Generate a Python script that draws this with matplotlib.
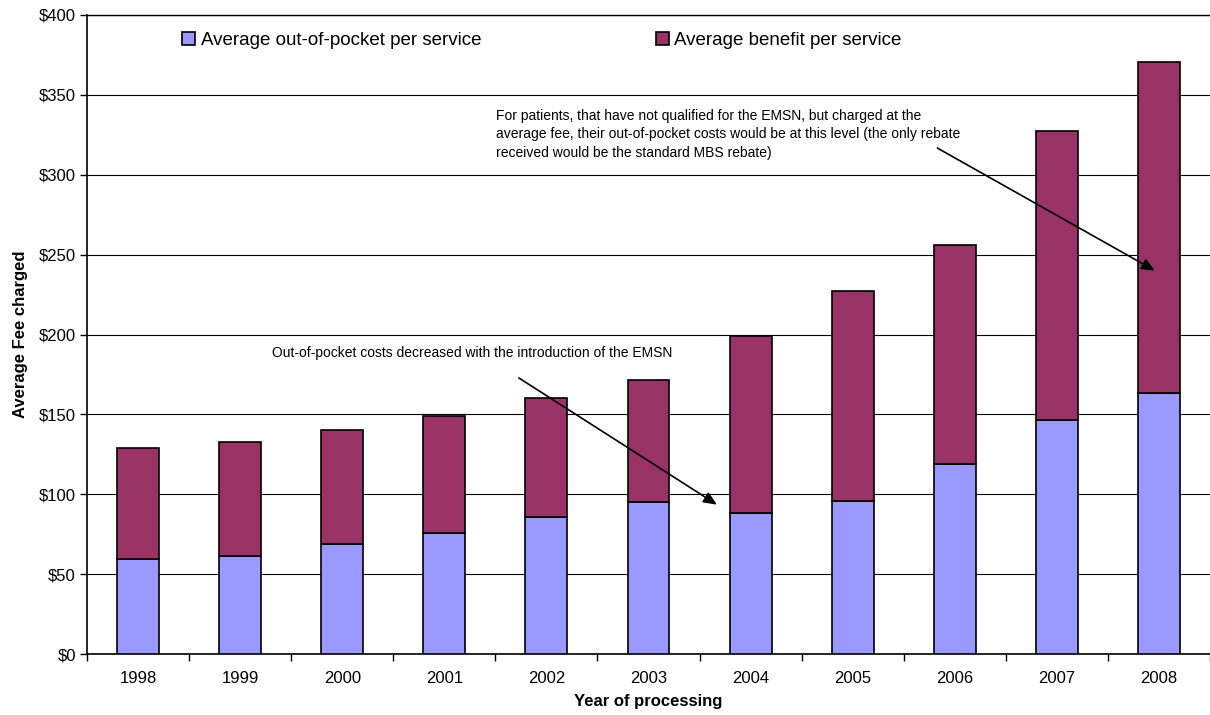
import matplotlib
matplotlib.use("Agg")
import matplotlib.pyplot as plt
from matplotlib.ticker import FuncFormatter, MultipleLocator
import numpy as np

plt.rcParams['font.family'] = ['Liberation Sans', 'DejaVu Sans']

years = ['1998', '1999', '2000', '2001', '2002', '2003', '2004', '2005', '2006', '2007', '2008']
out_of_pocket = [59.5, 61.5, 68.7, 75.9, 86.0, 95.4, 88.5, 95.8, 119.1, 146.5, 163.6]
total_fee = [129.1, 132.5, 140.2, 148.8, 160.1, 171.3, 198.9, 227.4, 256.0, 327.6, 370.6]
benefit = [t - o for t, o in zip(total_fee, out_of_pocket)]

oop_color = '#9999FF'
ben_color = '#993366'

fig = plt.figure(figsize=(12.1, 7.15), dpi=100)
ax = fig.add_axes([87 / 1210, 61 / 715, 1 - 87 / 1210, 639 / 715])

x = np.arange(len(years))
w = 0.41
ax.bar(x, out_of_pocket, width=w, color=oop_color, edgecolor='black', linewidth=1.2,
       label='Average out-of-pocket per service', zorder=3)
ax.bar(x, benefit, width=w, bottom=out_of_pocket, color=ben_color, edgecolor='black',
       linewidth=1.2, label='Average benefit per service', zorder=3)

ax.set_xlim(-0.5, len(years) - 0.5)
ax.set_ylim(0, 400)
ax.yaxis.set_major_locator(MultipleLocator(50))
ax.yaxis.set_major_formatter(FuncFormatter(lambda v, p: f'${v:.0f}'))
ax.grid(axis='y', color='black', linewidth=0.8, zorder=0)
ax.axhline(400, color='black', linewidth=1.0, clip_on=False, zorder=1)

ax.set_xticks(x)
ax.set_xticklabels(years)
ax.set_xticks(np.arange(-0.5, len(years) - 0.5 + 0.01, 1), minor=True)
ax.tick_params(axis='x', which='major', length=0, pad=12, labelsize=12)
ax.tick_params(axis='x', which='minor', length=5, width=1, direction='out')
ax.tick_params(axis='y', length=5, width=1, direction='out', labelsize=12, pad=3)

for s in ['top', 'right']:
    ax.spines[s].set_visible(False)
for s in ['left', 'bottom']:
    ax.spines[s].set_linewidth(1.2)

ax.set_xlabel('Year of processing', fontsize=12, fontweight='bold', labelpad=6)
ax.set_ylabel('Average Fee charged', fontsize=12, fontweight='bold', labelpad=8)

leg = ax.legend(loc='upper left', bbox_to_anchor=(0.078, 0.985), ncol=2, frameon=False,
                fontsize=13.5, handlelength=0.7, handleheight=0.7, handletextpad=0.3,
                columnspacing=9.3, borderaxespad=0)

arrow_style = dict(arrowstyle='-|>,head_length=0.8,head_width=0.35',
                   color='black', lw=1.2, shrinkA=0, shrinkB=0)

ax.annotate('', xy=(5.67, 93.5), xytext=(3.73, 172.8), arrowprops=arrow_style, zorder=5)
ax.text(1.31, 188.5, 'Out-of-pocket costs decreased with the introduction of the EMSN',
        fontsize=10, ha='left', va='center', zorder=5)

ax.annotate('', xy=(9.96, 240.0), xytext=(7.83, 316.7), arrowprops=arrow_style, zorder=5)
ax.text(3.51, 341.0,
        'For patients, that have not qualified for the EMSN, but charged at the\n'
        'average fee, their out-of-pocket costs would be at this level (the only rebate\n'
        'received would be the standard MBS rebate)',
        fontsize=10, ha='left', va='top', linespacing=1.38, zorder=5)

fig.savefig('out.png', dpi=100)
